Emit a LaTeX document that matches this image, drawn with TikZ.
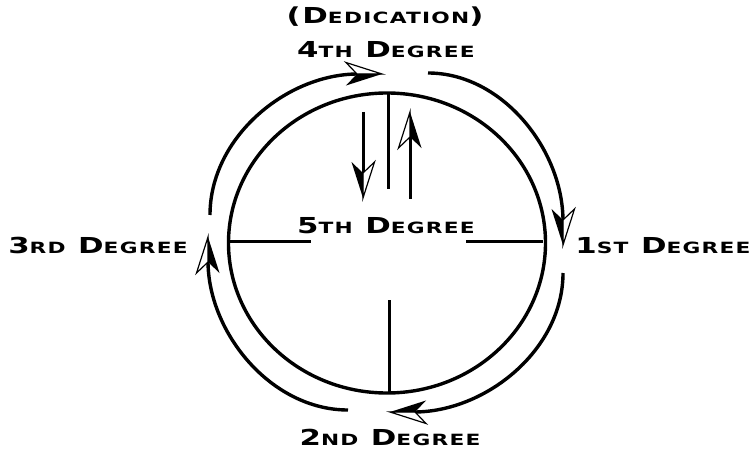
\documentclass[tikz,border=0pt]{standalone}
\usepackage{fontspec}
\usepackage{tikz}
\usetikzlibrary{decorations.markings}
\newfontfamily\cpfont[FakeStretch=1.4,LetterSpace=8]{DejaVu Sans}
\newcommand\smc[1]{{\fontsize{15.5}{16}\selectfont #1}}
\newcommand\dgr[2]{#1\smc{#2} D\smc{EGREE}}

\tikzset{
  lbl/.style={font=\cpfont\bfseries\fontsize{22}{24}\selectfont, inner sep=0pt},
  ring/.style={line width=3.4pt},
  bar/.style={line width=3pt},
  halfhead/.style={shorten >=24pt, postaction={decorate,decoration={markings,
    mark=at position 0.9999 with {
      \draw[line width=1.2pt, fill=white, line join=miter] (0,0) -- (-36,-11.5) -- (-25,0) -- cycle;
      \fill (0,0) -- (-36,11.5) -- (-25,0) -- cycle;}}}}
}

\begin{document}
\begin{tikzpicture}[x=1pt,y=-1pt]
    \useasboundingbox (0,0) rectangle (755,449);
    % inner ring and cross
    \draw[ring] (387,243) ellipse [x radius=158.5, y radius=150];
    \draw[bar] (228,242) -- (311,242);
    \draw[bar] (466,242) -- (543,242);
    \draw[bar] (388.5,94) -- (388.5,189);
    \draw[bar] (389,300) -- (389,392);
    % inner arrows
    \coordinate (dtop) at (363,112); \coordinate (dbot) at (363,198);
    \coordinate (utop) at (410,112); \coordinate (ubot) at (410,199);
    \draw[bar, halfhead] (dtop) -- (dbot);
    \draw[bar, halfhead] (ubot) -- (utop);
    % outer arcs
    \coordinate (w1) at (210,215); \coordinate (n1) at (382,74);
    \coordinate (n2) at (428,73);  \coordinate (e1) at (563,245);
    \coordinate (e2) at (563,273); \coordinate (s1) at (390,412);
    \coordinate (s2) at (348,410); \coordinate (w2) at (208,237);
    \draw[ring, halfhead] (w1) .. controls (210,137) and (287,74) .. (n1);
    \draw[ring, halfhead] (n2) .. controls (502.5,73) and (563,150) .. (e1);
    \draw[ring, halfhead] (e2) .. controls (563,350) and (485.5,412) .. (s1);
    \draw[ring, halfhead] (s2) .. controls (271,410) and (208,332.5) .. (w2);
    % labels
    \node[lbl] (ded) at (385,17) {(D\smc{EDICATION})};
    \node[lbl] (d4) at (386,50) {\dgr{4}{TH}};
    \node[lbl] (d5) at (386,226) {\dgr{5}{TH}};
    \node[lbl] (d1) at (663,246) {\dgr{1}{ST}};
    \node[lbl] (d3) at (98,245) {\dgr{3}{RD}};
    \node[lbl] (d2) at (390,437) {\dgr{2}{ND}};
\end{tikzpicture}
\end{document}
